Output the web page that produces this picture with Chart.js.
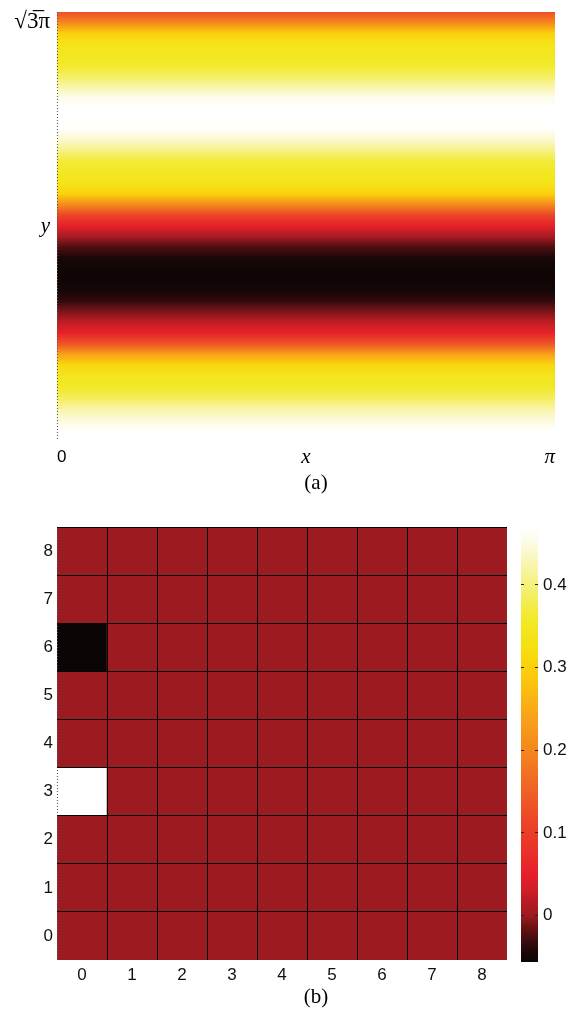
<!DOCTYPE html>
<html>
<head>
<meta charset="utf-8">
<script src="https://cdn.jsdelivr.net/npm/chart.js@4.4.1/dist/chart.umd.min.js"></script>
<style>
  html, body { margin: 0; padding: 0; background: #fff; }
  #page { position: relative; width: 573px; height: 1010px; overflow: hidden; }
  .box { position: absolute; }
  .cap { position: absolute; width: 80px; text-align: center; line-height: 24px;
         font-family: "Liberation Serif", "DejaVu Serif", serif; font-size: 21px; color: #000; }
</style>
</head>
<body>
<div id="page">
  <div class="box" style="left:0;top:0;width:573px;height:472px"><canvas id="fieldChart"></canvas></div>
  <div class="cap" style="left:276px;top:470px">(a)</div>
  <div class="box" style="left:0;top:500px;width:515px;height:490px"><canvas id="gridChart"></canvas></div>
  <div class="box" style="left:500px;top:515px;width:73px;height:460px"><canvas id="cbarChart"></canvas></div>
  <div class="cap" style="left:276px;top:984px">(b)</div>
</div>
<script>
// ---- panel (a): field on [0, π] × [0, √3π] ----
const X_MAX = Math.PI;
const Y_MAX = Math.sqrt(3) * Math.PI;

// normalised field level, sampled from y = 0 (bottom) up to y = √3π (top)
const bandLevels = [
  1.00, 0.99, 0.95, 0.90, 0.83, 0.78, 0.76, 0.70, 0.56, 0.36,
  0.21, 0.15, 0.09, 0.04, 0.012, 0.004, 0.006, 0.02, 0.06, 0.12,
  0.20, 0.32, 0.50, 0.68, 0.75, 0.77, 0.80, 0.87, 0.94, 0.99,
  1.00, 1.00, 0.97, 0.91, 0.84, 0.79, 0.77, 0.75, 0.68, 0.49,
  0.35
];
const fieldXTicks = [0, X_MAX / 2, X_MAX];
const fieldXLabels = ['0', 'x', 'π'];
const fieldYTicks = [Y_MAX / 2, Y_MAX];
const fieldYLabels = ['y', '√3\u0305π'];

// ---- panel (b): 9 × 9 cell values ----
const gridCols = ['0', '1', '2', '3', '4', '5', '6', '7', '8'];
const gridRows = [0, 1, 2, 3, 4, 5, 6, 7, 8];
// row 0 (bottom) … row 8 (top), columns 0 … 8
const cellValues = [
  [0, 0, 0, 0, 0, 0, 0, 0, 0],
  [0, 0, 0, 0, 0, 0, 0, 0, 0],
  [0, 0, 0, 0, 0, 0, 0, 0, 0],
  [0.47, 0, 0, 0, 0, 0, 0, 0, 0],
  [0, 0, 0, 0, 0, 0, 0, 0, 0],
  [0, 0, 0, 0, 0, 0, 0, 0, 0],
  [-0.056, 0, 0, 0, 0, 0, 0, 0, 0],
  [0, 0, 0, 0, 0, 0, 0, 0, 0],
  [0, 0, 0, 0, 0, 0, 0, 0, 0]
];
const C_MIN = -0.056;
const C_MAX = 0.47;
const cbarTicks = [0, 0.1, 0.2, 0.3, 0.4];

// colour map: black → dark red → red → orange → yellow → white
const cmapPos = [0, 0.021, 0.051, 0.082, 0.106, 0.142, 0.165, 0.205, 0.25, 0.326,
                 0.402, 0.48, 0.556, 0.619, 0.676, 0.725, 0.79, 0.865, 0.94, 0.97, 1];
const cmapColors = ['#0c0505', '#1a0707', '#400c0e', '#6e1214', '#9c1b20', '#b81c24',
                    '#d01e28', '#e8202a', '#e9302a', '#ec4628', '#f06425', '#f4841e',
                    '#f8a01a', '#fbba12', '#fcd00c', '#f5e010', '#f2ea2a', '#f5f07a',
                    '#fbf8cc', '#fefcec', '#ffffff'];

function hexRgb(h) {
  const n = parseInt(h.slice(1), 16);
  return [(n >> 16) & 255, (n >> 8) & 255, n & 255];
}
const cmapRgb = cmapColors.map(hexRgb);

function cmap(t) {
  t = Math.min(1, Math.max(0, t));
  for (let i = 1; i < cmapPos.length; i++) {
    if (t <= cmapPos[i]) {
      const f = (t - cmapPos[i - 1]) / (cmapPos[i] - cmapPos[i - 1]);
      const a = cmapRgb[i - 1], b = cmapRgb[i];
      const c = a.map((v, k) => Math.round(v + (b[k] - v) * f));
      return `rgb(${c[0]},${c[1]},${c[2]})`;
    }
  }
  return cmapColors[cmapColors.length - 1];
}

// vertical gradient between two values on a chart's y scale
function vGradient(chart, lo, hi, cLo, cHi) {
  const s = chart.scales && chart.scales.y;
  if (!s) return cLo;
  const p0 = s.getPixelForValue(lo), p1 = s.getPixelForValue(hi);
  if (!isFinite(p0) || !isFinite(p1) || p0 === p1) return cLo;
  const g = chart.ctx.createLinearGradient(0, p0, 0, p1);
  g.addColorStop(0, cLo);
  g.addColorStop(1, cHi);
  return g;
}

const serif = '"Liberation Serif", "DejaVu Serif", serif';
const sans = '"Liberation Sans", Arial, sans-serif';
const common = {
  responsive: true, maintainAspectRatio: false, animation: false, events: [],
  plugins: { legend: { display: false }, tooltip: { enabled: false } }
};
// keep the plot area where the layout padding puts it
const noOverhang = s => { s.paddingTop = 0; s.paddingBottom = 0; s.paddingLeft = 0; s.paddingRight = 0; };

// ---------- panel (a) ----------
const nBands = bandLevels.length - 1;
const bandY = bandLevels.map((_, k) => k * Y_MAX / nBands);
const bandData = [];
for (let k = 0; k < nBands; k++) {
  bandData.push({ y: (bandY[k] + bandY[k + 1]) / 2, x: [0, X_MAX] });
}

// one continuous fill through all sampled levels, placed with the y scale
let fieldGrad = null, fieldGradKey = '';
function fieldGradient(chart) {
  const s = chart.scales && chart.scales.y;
  if (!s) return cmap(bandLevels[0]);
  const p0 = s.getPixelForValue(0), p1 = s.getPixelForValue(Y_MAX);
  if (!isFinite(p0) || !isFinite(p1) || p0 === p1) return cmap(bandLevels[0]);
  const key = p0 + ':' + p1;
  if (fieldGrad && key === fieldGradKey) return fieldGrad;
  const g = chart.ctx.createLinearGradient(0, p0, 0, p1);
  bandLevels.forEach((v, k) => {
    const off = (s.getPixelForValue(bandY[k]) - p0) / (p1 - p0);
    g.addColorStop(Math.min(1, Math.max(0, off)), cmap(v));
  });
  fieldGrad = g; fieldGradKey = key;
  return g;
}

new Chart(document.getElementById('fieldChart'), {
  type: 'bar',
  data: {
    datasets: [{
      data: bandData,
      backgroundColor: c => fieldGradient(c.chart),
      borderWidth: 0, barPercentage: 1, categoryPercentage: 1, inflateAmount: 1
    }]
  },
  options: {
    ...common,
    indexAxis: 'y',
    layout: { padding: { top: 12, right: 18, left: 0, bottom: 0 } },
    scales: {
      x: {
        type: 'linear', min: 0, max: X_MAX,
        afterBuildTicks: s => { s.ticks = fieldXTicks.map(v => ({ value: v })); },
        afterFit: s => { s.height = 32; noOverhang(s); },
        grid: {
          display: true, drawTicks: false, lineWidth: 1, z: 1,
          color: c => c.index === 0 ? '#555' : 'rgba(0,0,0,0)'
        },
        border: { display: false, dash: c => c.index === 0 ? [1, 2] : [] },
        ticks: {
          align: 'inner', padding: 7, color: '#000', maxRotation: 0,
          callback: (v, i) => fieldXLabels[i],
          font: c => c.index === 0
            ? { family: sans, size: 17, lineHeight: '20px' }
            : { family: serif, size: 21, style: 'italic', lineHeight: '20px' }
        }
      },
      y: {
        type: 'linear', min: 0, max: Y_MAX, offset: false,
        afterBuildTicks: s => { s.ticks = fieldYTicks.map(v => ({ value: v })); },
        afterFit: s => { s.width = 57; noOverhang(s); },
        grid: { display: false, drawTicks: false },
        border: { display: false },
        ticks: {
          padding: 7, color: '#000',
          callback: (v, i) => i === fieldYLabels.length - 1 ? ['', fieldYLabels[i]] : fieldYLabels[i],
          font: c => c.index === 0
            ? { family: serif, size: 21, style: 'italic', lineHeight: '20px' }
            : { family: serif, size: 23, lineHeight: '20px' }
        }
      }
    }
  }
});

// ---------- panel (b): cells ----------
const cellDatasets = gridRows.map((r, ri) => ({
  data: gridCols.map(() => [r - 0.5, r + 0.5]),
  backgroundColor: cellValues[ri].map(v => cmap((v - C_MIN) / (C_MAX - C_MIN))),
  borderWidth: 0, grouped: false, barPercentage: 1, categoryPercentage: 1
}));

const tickFont = { family: sans, size: 17, lineHeight: '20px' };

new Chart(document.getElementById('gridChart'), {
  type: 'bar',
  data: { labels: gridCols, datasets: cellDatasets },
  options: {
    ...common,
    layout: { padding: { top: 27, right: 8, left: 0, bottom: 0 } },
    scales: {
      x: {
        type: 'category', offset: true,
        afterFit: s => { s.height = 30; noOverhang(s); },
        grid: {
          offset: true, drawTicks: false, lineWidth: 1, z: 1,
          color: c => c.index === 0 ? '#555' : (c.index === undefined ? 'rgba(0,0,0,0)' : '#000')
        },
        border: { display: false, dash: c => c.index === 0 ? [1, 2] : [] },
        ticks: { padding: 5, color: '#111', font: tickFont, maxRotation: 0 }
      },
      y: {
        type: 'linear', min: -0.5, max: 8.5,
        afterBuildTicks: s => { s.ticks = gridRows.map(v => ({ value: v })); },
        afterFit: s => { s.width = 57; noOverhang(s); },
        grid: {
          offset: true, drawTicks: false, lineWidth: 1, z: 1,
          color: c => c.index === 0 ? 'rgba(0,0,0,0)' : '#000'
        },
        border: { display: false },
        ticks: { padding: 4, color: '#111', font: tickFont, callback: v => String(v) }
      }
    }
  }
});

// ---------- panel (b): colour bar ----------
const cbarDatasets = [];
for (let i = 0; i < cmapPos.length - 1; i++) {
  const lo = C_MIN + cmapPos[i] * (C_MAX - C_MIN);
  const hi = C_MIN + cmapPos[i + 1] * (C_MAX - C_MIN);
  const cLo = cmapColors[i], cHi = cmapColors[i + 1];
  cbarDatasets.push({
    data: [[lo, hi]],
    backgroundColor: c => vGradient(c.chart, lo, hi, cLo, cHi),
    borderWidth: 0, grouped: false, barPercentage: 1, categoryPercentage: 1
  });
}

new Chart(document.getElementById('cbarChart'), {
  type: 'bar',
  data: { labels: [''], datasets: cbarDatasets },
  options: {
    ...common,
    layout: { padding: { top: 12, right: 0, left: 21, bottom: 13 } },
    scales: {
      x: { display: false },
      y: {
        type: 'linear', position: 'right', min: C_MIN, max: C_MAX,
        afterBuildTicks: s => { s.ticks = cbarTicks.map(v => ({ value: v })); },
        afterFit: s => { s.width = 35; noOverhang(s); },
        grid: { drawTicks: false, lineWidth: 1, color: '#222', z: 1 },
        border: { display: false, dash: [3, 11] },
        ticks: {
          padding: 5, color: '#111', font: tickFont,
          callback: v => v === 0 ? '0' : v.toFixed(1)
        }
      }
    }
  }
});
</script>
</body>
</html>
